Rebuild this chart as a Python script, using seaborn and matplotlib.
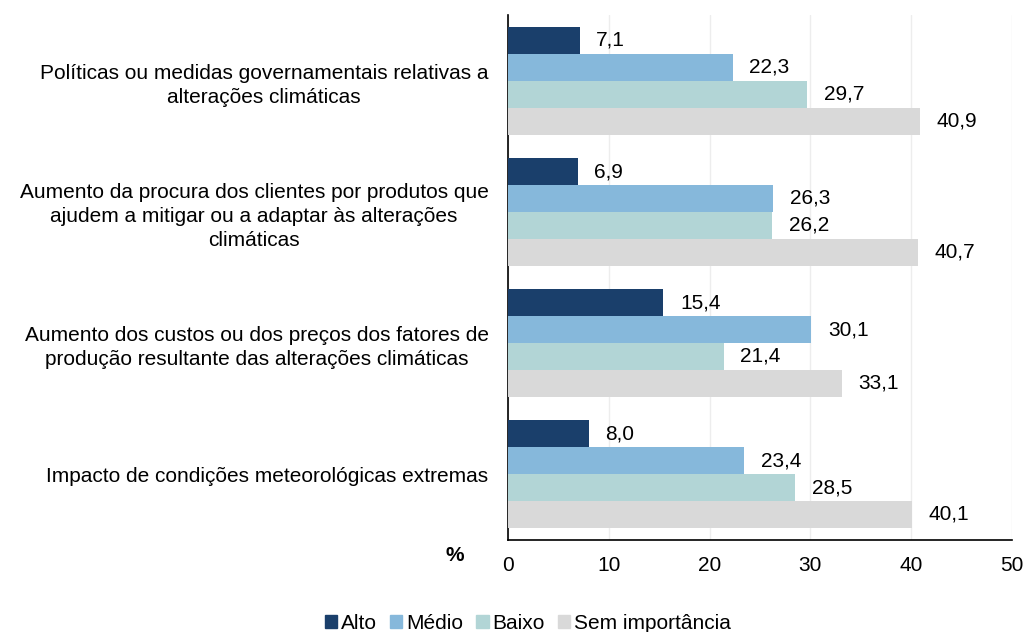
import pandas as pd
import numpy as np
import matplotlib.pyplot as plt
import seaborn as sns

# Data (%)
categories = [
    "Políticas ou medidas governamentais relativas a\nalterações climáticas",
    "Aumento da procura dos clientes por produtos que\najudem a mitigar ou a adaptar às alterações\nclimáticas",
    "Aumento dos custos ou dos preços dos fatores de\nprodução resultante das alterações climáticas",
    "Impacto de condições meteorológicas extremas",
]
levels = ["Alto", "Médio", "Baixo", "Sem importância"]
alto = [7.1, 6.9, 15.4, 8.0]
medio = [22.3, 26.3, 30.1, 23.4]
baixo = [29.7, 26.2, 21.4, 28.5]
sem_importancia = [40.9, 40.7, 33.1, 40.1]

colors = ["#1A3F6B", "#86B8DB", "#B2D5D6", "#D9D9D9"]

# Long format table for seaborn
rows = []
for lvl, vals in zip(levels, [alto, medio, baixo, sem_importancia]):
    for cat, v in zip(categories, vals):
        rows.append({"categoria": cat, "nivel": lvl, "valor": v})
df = pd.DataFrame(rows)

sns.set_style("white")
plt.rcParams["font.family"] = ["Liberation Sans", "DejaVu Sans"]
plt.rcParams["text.color"] = "black"
plt.rcParams["xtick.color"] = "black"
plt.rcParams["ytick.color"] = "black"
fs = 15

fig = plt.figure(figsize=(10.25, 6.32), dpi=100)
ax = fig.add_axes([0.4956, 0.146, 0.4917, 0.830])

sns.barplot(data=df, x="valor", y="categoria", hue="nivel", order=categories,
            hue_order=levels, palette=colors, orient="h", width=0.82, gap=0,
            saturation=1, edgecolor="none", linewidth=0, ax=ax, zorder=3)

# Value labels with decimal comma
for container in ax.containers:
    labels = [f"{b.get_width():.1f}".replace(".", ",") for b in container]
    ax.bar_label(container, labels=labels, padding=12, fontsize=fs, color="black")

ax.set_xlim(0, 50)
ax.set_xticks(np.arange(0, 51, 10))
ax.grid(axis="x", color="#EDEDED", linewidth=1, zorder=0)
ax.set_axisbelow(True)
ax.set_xlabel("")
ax.set_ylabel("")

# Spines
for s in ["top", "right"]:
    ax.spines[s].set_visible(False)
for s in ["left", "bottom"]:
    ax.spines[s].set_color("black")
    ax.spines[s].set_linewidth(1.2)

# Ticks
ax.tick_params(axis="x", direction="inout", length=7, width=1.2, labelsize=fs, pad=8)
ax.tick_params(axis="y", which="major", length=0, labelsize=fs, pad=14)
ax.set_yticks(np.arange(-0.5, len(categories), 1), minor=True)
ax.tick_params(axis="y", which="minor", direction="out", length=5, width=1.2)
ax.set_ylim(len(categories) - 0.5, -0.5)
for lab in ax.get_yticklabels():
    lab.set_multialignment("center")
    lab.set_linespacing(1.35)

ax.text(-0.105, -0.03, "%", transform=ax.transAxes, ha="center", va="center",
        fontsize=fs, fontweight="bold")

# Legend at bottom
ax.legend_.remove()
handles = [plt.Rectangle((0, 0), 1, 1, color=c) for c in colors]
fig.legend(handles, levels, loc="center", bbox_to_anchor=(0.515, 0.014), ncol=4,
           frameon=False, fontsize=fs, handlelength=0.6, handleheight=0.6,
           handletextpad=0.2, columnspacing=0.6)

fig.savefig("out.png", dpi=100)
